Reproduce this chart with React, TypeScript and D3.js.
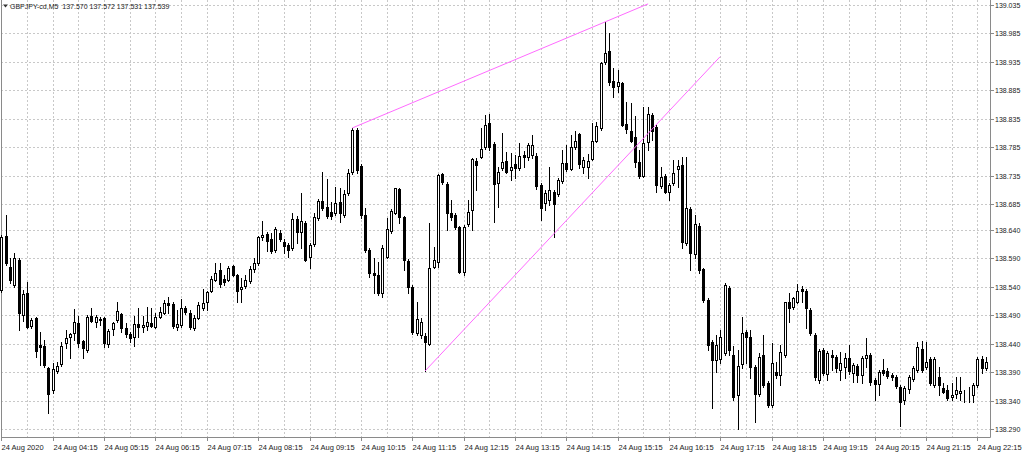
import { useEffect, useRef } from 'react'
import * as d3 from 'd3'

// GBPJPY M5, one value per bar
const opens = [
  138.534, 138.629, 138.574, 138.543, 138.587, 138.490, 138.529, 138.471, 138.485, 138.438,
  138.436, 138.397, 138.359, 138.392, 138.404, 138.441, 138.452, 138.459, 138.476, 138.445,
  138.429, 138.489, 138.478, 138.482, 138.485, 138.439, 138.466, 138.482, 138.492, 138.467,
  138.457, 138.452, 138.475, 138.469, 138.471, 138.476, 138.469, 138.487, 138.494, 138.511,
  138.510, 138.469, 138.473, 138.503, 138.494, 138.467, 138.485, 138.503, 138.513, 138.532,
  138.552, 138.569, 138.553, 138.552, 138.576, 138.560, 138.536, 138.541, 138.550, 138.571,
  138.582, 138.628, 138.633, 138.624, 138.605, 138.634, 138.618, 138.613, 138.608, 138.659,
  138.636, 138.652, 138.592, 138.615, 138.661, 138.691, 138.680, 138.671, 138.669, 138.689,
  138.666, 138.705, 138.742, 138.815, 138.752, 138.666, 138.605, 138.564, 138.560, 138.529,
  138.592, 138.638, 138.669, 138.712, 138.662, 138.585, 138.539, 138.459, 138.455, 138.453,
  138.439, 138.574, 138.583, 138.738, 138.720, 138.669, 138.666, 138.645, 138.566, 138.650,
  138.675, 138.761, 138.768, 138.785, 138.828, 138.791, 138.722, 138.749, 138.761, 138.745,
  138.756, 138.749, 138.771, 138.768, 138.771, 138.770, 138.719, 138.687, 138.692, 138.707,
  138.703, 138.726, 138.757, 138.747, 138.785, 138.808, 138.750, 138.750, 138.764, 138.796,
  138.819, 138.935, 138.954, 138.901, 138.893, 138.898, 138.826, 138.813, 138.803, 138.759,
  138.735, 138.794, 138.842, 138.821, 138.717, 138.735, 138.707, 138.722, 138.747, 138.754,
  138.617, 138.677, 138.597, 138.647, 138.571, 138.517, 138.443, 138.411, 138.413, 138.424,
  138.538, 138.420, 138.350, 138.404, 138.461, 138.452, 138.399, 138.352, 138.420, 138.371,
  138.332, 138.390, 138.385, 138.420, 138.513, 138.504, 138.513, 138.536, 138.532, 138.499,
  138.455, 138.376, 138.429, 138.387, 138.420, 138.416, 138.394, 138.399, 138.415, 138.388,
  138.401, 138.385, 138.415, 138.420, 138.376, 138.369, 138.394, 138.392, 138.385, 138.381,
  138.364, 138.341, 138.360, 138.378, 138.394, 138.431, 138.399, 138.413, 138.367, 138.381,
  138.362, 138.359, 138.346, 138.352, 138.353, 138.355, 138.357, 138.350, 138.367, 138.413,
  138.397,
]

const highs = [
  138.631, 138.666, 138.591, 138.600, 138.591, 138.534, 138.548, 138.485, 138.487, 138.461,
  138.446, 138.399, 138.406, 138.408, 138.443, 138.464, 138.459, 138.501, 138.488, 138.446,
  138.490, 138.503, 138.490, 138.487, 138.487, 138.466, 138.478, 138.513, 138.494, 138.476,
  138.461, 138.488, 138.503, 138.488, 138.504, 138.503, 138.494, 138.504, 138.517, 138.522,
  138.513, 138.499, 138.518, 138.506, 138.499, 138.490, 138.513, 138.536, 138.532, 138.559,
  138.582, 138.582, 138.560, 138.576, 138.578, 138.562, 138.555, 138.560, 138.576, 138.591,
  138.629, 138.655, 138.636, 138.634, 138.645, 138.640, 138.624, 138.617, 138.669, 138.664,
  138.705, 138.655, 138.617, 138.669, 138.694, 138.741, 138.729, 138.689, 138.715, 138.713,
  138.710, 138.747, 138.819, 138.819, 138.756, 138.678, 138.608, 138.591, 138.583, 138.613,
  138.661, 138.677, 138.713, 138.713, 138.664, 138.589, 138.543, 138.513, 138.485, 138.459,
  138.652, 138.610, 138.738, 138.740, 138.724, 138.692, 138.669, 138.647, 138.648, 138.692,
  138.766, 138.766, 138.819, 138.842, 138.843, 138.794, 138.750, 138.810, 138.777, 138.775,
  138.771, 138.792, 138.778, 138.792, 138.806, 138.775, 138.722, 138.710, 138.750, 138.710,
  138.731, 138.780, 138.789, 138.806, 138.813, 138.810, 138.768, 138.773, 138.828, 138.829,
  138.935, 139.005, 138.986, 138.924, 138.921, 138.900, 138.865, 138.863, 138.840, 138.780,
  138.856, 138.856, 138.845, 138.824, 138.750, 138.738, 138.722, 138.763, 138.763, 138.768,
  138.768, 138.680, 138.666, 138.652, 138.573, 138.520, 138.446, 138.455, 138.464, 138.547,
  138.541, 138.436, 138.429, 138.487, 138.464, 138.464, 138.402, 138.424, 138.455, 138.374,
  138.441, 138.408, 138.438, 138.513, 138.529, 138.522, 138.545, 138.541, 138.536, 138.503,
  138.459, 138.431, 138.432, 138.427, 138.429, 138.420, 138.425, 138.424, 138.438, 138.406,
  138.404, 138.418, 138.450, 138.424, 138.380, 138.394, 138.413, 138.397, 138.388, 138.385,
  138.367, 138.366, 138.385, 138.401, 138.443, 138.445, 138.443, 138.416, 138.416, 138.399,
  138.371, 138.367, 138.371, 138.381, 138.381, 138.359, 138.364, 138.371, 138.416, 138.418,
  138.416,
]

const lows = [
  138.530, 138.578, 138.547, 138.539, 138.464, 138.480, 138.467, 138.467, 138.416, 138.402,
  138.399, 138.318, 138.353, 138.388, 138.401, 138.432, 138.415, 138.446, 138.434, 138.415,
  138.425, 138.478, 138.469, 138.473, 138.434, 138.434, 138.455, 138.478, 138.461, 138.452,
  138.443, 138.436, 138.452, 138.461, 138.464, 138.469, 138.467, 138.485, 138.492, 138.494,
  138.467, 138.464, 138.469, 138.492, 138.466, 138.464, 138.483, 138.499, 138.499, 138.531,
  138.550, 138.539, 138.543, 138.550, 138.559, 138.513, 138.513, 138.538, 138.547, 138.566,
  138.578, 138.622, 138.603, 138.599, 138.601, 138.620, 138.599, 138.592, 138.605, 138.617,
  138.608, 138.585, 138.573, 138.611, 138.657, 138.675, 138.661, 138.659, 138.666, 138.654,
  138.663, 138.701, 138.738, 138.740, 138.661, 138.601, 138.557, 138.529, 138.525, 138.522,
  138.591, 138.634, 138.668, 138.652, 138.569, 138.529, 138.457, 138.455, 138.450, 138.392,
  138.438, 138.573, 138.574, 138.720, 138.640, 138.657, 138.641, 138.564, 138.560, 138.647,
  138.640, 138.710, 138.766, 138.782, 138.780, 138.654, 138.680, 138.745, 138.740, 138.728,
  138.731, 138.745, 138.750, 138.763, 138.766, 138.712, 138.657, 138.675, 138.684, 138.628,
  138.699, 138.722, 138.743, 138.745, 138.782, 138.749, 138.740, 138.731, 138.763, 138.794,
  138.815, 138.931, 138.894, 138.873, 138.882, 138.822, 138.810, 138.794, 138.750, 138.731,
  138.733, 138.780, 138.798, 138.707, 138.713, 138.705, 138.692, 138.719, 138.715, 138.608,
  138.613, 138.569, 138.591, 138.564, 138.513, 138.429, 138.327, 138.390, 138.406, 138.420,
  138.420, 138.341, 138.290, 138.397, 138.406, 138.380, 138.302, 138.348, 138.364, 138.329,
  138.329, 138.380, 138.367, 138.416, 138.478, 138.501, 138.511, 138.513, 138.467, 138.455,
  138.376, 138.371, 138.385, 138.376, 138.394, 138.390, 138.376, 138.380, 138.387, 138.373,
  138.373, 138.371, 138.399, 138.367, 138.341, 138.350, 138.385, 138.380, 138.376, 138.362,
  138.295, 138.334, 138.353, 138.374, 138.390, 138.390, 138.396, 138.367, 138.364, 138.350,
  138.353, 138.341, 138.341, 138.345, 138.341, 138.338, 138.338, 138.338, 138.364, 138.388,
  138.394,
]

const closes = [
  138.628, 138.582, 138.552, 138.591, 138.494, 138.527, 138.469, 138.482, 138.427, 138.434,
  138.402, 138.352, 138.395, 138.401, 138.436, 138.450, 138.457, 138.478, 138.441, 138.432,
  138.487, 138.480, 138.487, 138.483, 138.441, 138.462, 138.476, 138.497, 138.467, 138.457,
  138.450, 138.475, 138.469, 138.473, 138.478, 138.471, 138.487, 138.496, 138.511, 138.508,
  138.471, 138.475, 138.503, 138.496, 138.469, 138.485, 138.508, 138.511, 138.531, 138.553,
  138.564, 138.545, 138.548, 138.573, 138.560, 138.532, 138.539, 138.552, 138.571, 138.582,
  138.628, 138.631, 138.620, 138.603, 138.641, 138.624, 138.611, 138.605, 138.659, 138.636,
  138.655, 138.587, 138.613, 138.662, 138.691, 138.678, 138.664, 138.664, 138.687, 138.669,
  138.703, 138.740, 138.815, 138.745, 138.666, 138.605, 138.564, 138.560, 138.529, 138.608,
  138.641, 138.673, 138.713, 138.662, 138.587, 138.539, 138.461, 138.483, 138.478, 138.443,
  138.573, 138.587, 138.736, 138.724, 138.669, 138.662, 138.645, 138.566, 138.645, 138.671,
  138.764, 138.754, 138.782, 138.824, 138.785, 138.721, 138.742, 138.759, 138.742, 138.750,
  138.749, 138.770, 138.768, 138.789, 138.789, 138.717, 138.678, 138.705, 138.710, 138.685,
  138.728, 138.757, 138.747, 138.785, 138.796, 138.756, 138.763, 138.761, 138.796, 138.822,
  138.933, 138.951, 138.900, 138.891, 138.900, 138.824, 138.817, 138.796, 138.759, 138.735,
  138.792, 138.843, 138.814, 138.719, 138.733, 138.707, 138.719, 138.740, 138.752, 138.619,
  138.678, 138.599, 138.650, 138.569, 138.517, 138.438, 138.411, 138.438, 138.452, 138.543,
  138.429, 138.346, 138.401, 138.459, 138.452, 138.399, 138.352, 138.416, 138.367, 138.332,
  138.406, 138.385, 138.425, 138.513, 138.503, 138.520, 138.532, 138.532, 138.503, 138.459,
  138.381, 138.427, 138.388, 138.424, 138.416, 138.397, 138.406, 138.415, 138.392, 138.402,
  138.385, 138.415, 138.420, 138.373, 138.369, 138.390, 138.388, 138.383, 138.381, 138.366,
  138.338, 138.362, 138.381, 138.397, 138.434, 138.394, 138.408, 138.371, 138.413, 138.367,
  138.355, 138.345, 138.350, 138.359, 138.357, 138.355, 138.357, 138.367, 138.413, 138.397,
  138.408,
]

const priceTicks = [
  139.035, 138.985, 138.935, 138.885, 138.835, 138.785, 138.735, 138.685,
  138.640, 138.590, 138.540, 138.490, 138.440, 138.390, 138.340, 138.290,
]

// one label every 12 bars, starting at bar 0
const timeLabels = [
  '24 Aug 2020', '24 Aug 04:15', '24 Aug 05:15', '24 Aug 06:15', '24 Aug 07:15',
  '24 Aug 08:15', '24 Aug 09:15', '24 Aug 10:15', '24 Aug 11:15', '24 Aug 12:15',
  '24 Aug 13:15', '24 Aug 14:15', '24 Aug 15:15', '24 Aug 16:15', '24 Aug 17:15',
  '24 Aug 18:15', '24 Aug 19:15', '24 Aug 20:15', '24 Aug 21:15', '24 Aug 22:15',
]

// trend lines: bar index / price of both ends
const trendStart = [[82, 138.819], [99, 138.392]]
const trendEnd = [[151.1, 139.037], [167.9, 138.944]]

const headerText = 'GBPJPY-cd,M5  137.570 137.572 137.531 137.539'

const WIDTH = 1024
const HEIGHT = 454

export default function App() {
  const svgRef = useRef<SVGSVGElement>(null)

  useEffect(() => {
    if (!svgRef.current) return
    const svg = d3.select(svgRef.current)
    svg.selectAll('*').remove()

    const frame = { left: 1, right: 990, top: 0, bottom: 437 }
    const step = 4.28
    const n = opens.length

    const x = d3.scaleLinear()
      .domain([0, n - 1])
      .range([1.4, 1.4 + step * (n - 1)])
    const y = d3.scaleLinear()
      .domain([138.290, 139.035])
      .range([429, 5])

    const font = '"Liberation Sans", Arial, sans-serif'

    svg.append('rect')
      .attr('width', WIDTH)
      .attr('height', HEIGHT)
      .attr('fill', '#fff')

    // grid
    const grid = svg.append('g')
      .attr('stroke', '#c8c8c8')
      .attr('stroke-width', 1)
      .attr('stroke-dasharray', '2,2')

    priceTicks.forEach(p => {
      const yy = Math.round(y(p)) + 0.5
      grid.append('line')
        .attr('x1', frame.left).attr('x2', frame.right)
        .attr('y1', yy).attr('y2', yy)
    })

    for (let i = 6; i < n; i += 6) {
      const xx = Math.round(x(i)) + 0.5
      grid.append('line')
        .attr('x1', xx).attr('x2', xx)
        .attr('y1', frame.top).attr('y2', frame.bottom)
    }

    // frame
    svg.append('path')
      .attr('d', `M${frame.left + 0.5},${frame.top}V${frame.bottom + 0.5}H${frame.right + 0.5}V${frame.top}`)
      .attr('fill', 'none')
      .attr('stroke', '#8a8a8a')

    // price axis
    const yAxis = svg.append('g')
    priceTicks.forEach(p => {
      const yy = Math.round(y(p)) + 0.5
      yAxis.append('line')
        .attr('x1', frame.right + 1).attr('x2', frame.right + 4)
        .attr('y1', yy).attr('y2', yy)
        .attr('stroke', '#8a8a8a')
      yAxis.append('text')
        .attr('x', frame.right + 5)
        .attr('y', yy)
        .attr('dy', '0.35em')
        .style('font-family', font)
        .style('font-size', '7px')
        .style('fill', '#222')
        .text(p.toFixed(3))
    })

    // time axis
    const xAxis = svg.append('g')
    timeLabels.forEach((label, k) => {
      const xx = Math.round(x(k * 12)) + 0.5
      xAxis.append('line')
        .attr('x1', xx).attr('x2', xx)
        .attr('y1', frame.bottom).attr('y2', frame.bottom + 4)
        .attr('stroke', '#8a8a8a')
      xAxis.append('text')
        .attr('x', xx)
        .attr('y', frame.bottom + 13)
        .style('font-family', font)
        .style('font-size', '7.5px')
        .style('fill', '#222')
        .text(label)
    })

    // candles
    const candles = svg.append('g')
    for (let i = 0; i < n; i++) {
      const o = opens[i], c = closes[i]
      const h = Math.max(highs[i], o, c)
      const l = Math.min(lows[i], o, c)
      const cx = Math.round(x(i))
      candles.append('line')
        .attr('x1', cx + 0.5).attr('x2', cx + 0.5)
        .attr('y1', Math.round(y(h))).attr('y2', Math.round(y(l)) + 1)
        .attr('stroke', '#000')
      const top = Math.round(y(Math.max(o, c)))
      const bot = Math.round(y(Math.min(o, c)))
      if (c < o) {
        candles.append('rect')
          .attr('x', cx - 1).attr('y', top)
          .attr('width', 3).attr('height', Math.max(1, bot - top + 1))
          .attr('fill', '#000')
      } else {
        candles.append('rect')
          .attr('x', cx - 0.5).attr('y', top + 0.5)
          .attr('width', 2).attr('height', Math.max(0, bot - top))
          .attr('fill', '#fff')
          .attr('stroke', '#000')
      }
    }

    // trend lines
    trendStart.forEach((s, k) => {
      const e = trendEnd[k]
      svg.append('line')
        .attr('x1', x(s[0])).attr('y1', y(s[1]))
        .attr('x2', x(e[0])).attr('y2', y(e[1]))
        .attr('stroke', '#ff6bff')
        .attr('stroke-width', 1)
    })

    // header
    svg.append('path')
      .attr('d', 'M3,4.5h5l-2.5,3z')
      .attr('fill', '#333')
    svg.append('text')
      .attr('x', 10)
      .attr('y', 9)
      .style('font-family', font)
      .style('font-size', '7px')
      .style('fill', '#222')
      .style('white-space', 'pre')
      .text(headerText)
  }, [])

  return (
    <svg
      ref={svgRef}
      width={WIDTH}
      height={HEIGHT}
      style={{ position: 'absolute', left: 0, top: 0 }}
    />
  )
}
